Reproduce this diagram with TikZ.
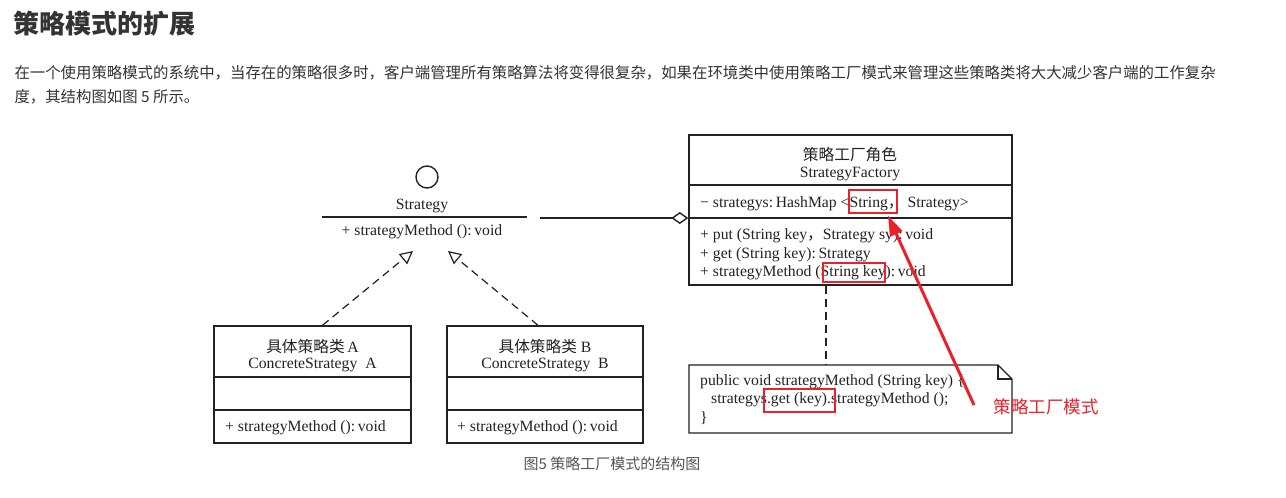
\documentclass[tikz,border=0pt]{standalone}
\usepackage{fontspec}
\setmainfont{Liberation Serif}
\newfontfamily\cjk{Noto Sans CJK SC}
\usetikzlibrary{arrows.meta,positioning}
\definecolor{page}{HTML}{333333}
\definecolor{ink}{HTML}{222222}
\definecolor{annot}{HTML}{E8212B}
\definecolor{capgray}{HTML}{555555}
\begin{document}
\begin{tikzpicture}[x=1pt,y=-1pt,
	box/.style={draw=ink,line width=1.4pt,inner sep=0pt},
	txt/.style={inner sep=0pt,yshift=-1.5pt,text=ink,font=\fontsize{15.7}{18}\selectfont},
	hint/.style={draw=annot,line width=1.4pt,inner sep=0pt},
	uml/.style={draw=ink,line width=1.4pt}]
	\fill [white] (0,0) rectangle (1286,498);
	\useasboundingbox (0,0) rectangle (1286,498);
	% page text
	\node [anchor=west,text=page,font=\cjk\bfseries\fontsize{26}{30}\selectfont] (title) at (10,24) {策略模式的扩展};
	\node [anchor=west,text=page,font=\cjk\fontsize{15.4}{18}\selectfont] (par1) at (11,73) {在一个使用策略模式的系统中，当存在的策略很多时，客户端管理所有策略算法将变得很复杂，如果在环境类中使用策略工厂模式来管理这些策略类将大大减少客户端的工作复杂};
	\node [anchor=west,text=page,font=\cjk\fontsize{15.4}{18}\selectfont] (par2) at (11,97) {度，其结构图如图 5 所示。};
	% interface
	\node [uml,circle,minimum size=22pt,inner sep=0pt] (iface) at (427,177) {};
	\node [txt] (sname) at (422,204) {Strategy};
	\coordinate (sl) at (322,217);
	\coordinate (sr) at (527,217);
	\draw [uml] (sl) -- (sr);
	\node [txt] (smeth) at (422,230) {+ strategyMethod ():\,void};
	% factory
	\node [box,minimum width=323pt,minimum height=150pt] (fac) at (850.5,210) {};
	\draw [uml] (fac.west |- 0,185) -- (fac.east |- 0,185);
	\draw [uml] (fac.west |- 0,218) -- (fac.east |- 0,218);
	\node [txt] (facn) at (850,153) {\cjk 策略工厂角色};
	\node [txt] (fact) at (850,172) {StrategyFactory};
	\node [txt,anchor=west] (fatt) at (700,202) {− strategys:\,HashMap <String{\cjk ，} Strategy>};
	\node [txt,anchor=west] (fm1) at (700,234) {+ put (String key{\cjk ，}Strategy sy):\,void};
	\node [txt,anchor=west] (fm2) at (700,253) {+ get (String key):\,Strategy};
	\node [txt,anchor=west] (fm3) at (700,271) {+ strategyMethod (String key):\,void};
	% note
	\draw [uml] (689,365) -- (998,365) -- (1012,379) -- (1012,433) -- (689,433) -- cycle;
	\draw [uml] (998,365) -- (998,379) -- (1012,379);
	\coordinate (note) at (826,365);
	\draw [uml,dash pattern=on 8pt off 5pt] (fac.south -| note) -- (note);
	\node [txt,anchor=west] (n1) at (700,380) {public void strategyMethod (String key) \{};
	\node [txt,anchor=west] (n2) at (711,398) {strategys.get (key).strategyMethod ();};
	\node [txt,anchor=west] (n3) at (700,417) {\}};
	% concrete strategies
	\node [box,minimum width=197pt,minimum height=117pt] (ca) at (312.5,384.5) {};
	\draw [uml] (ca.west |- 0,377) -- (ca.east |- 0,377);
	\draw [uml] (ca.west |- 0,410) -- (ca.east |- 0,410);
	\node [txt] (can) at (312.5,345) {{\cjk 具体策略类}\,A};
	\node [txt] (cat) at (312.5,363) {ConcreteStrategy\ \ A};
	\node [txt,anchor=west] (cam) at (225,426) {+ strategyMethod ():\,void};
	\node [box,minimum width=196pt,minimum height=117pt] (cb) at (545,384.5) {};
	\draw [uml] (cb.west |- 0,377) -- (cb.east |- 0,377);
	\draw [uml] (cb.west |- 0,410) -- (cb.east |- 0,410);
	\node [txt] (cbn) at (545,345) {{\cjk 具体策略类}\ B};
	\node [txt] (cbt) at (545,363) {ConcreteStrategy\ \ B};
	\node [txt,anchor=west] (cbm) at (457,426) {+ strategyMethod ():\,void};
	% relations
	\coordinate (ta) at (413,251);
	\coordinate (tb) at (448,251);
	\draw [uml,line width=1.2pt,dash pattern=on 8pt off 5pt,-{Triangle[open,length=13pt,width=13pt]}] ([xshift=10pt]ca.north) -- (ta);
	\draw [uml,line width=1.2pt,dash pattern=on 8pt off 5pt,-{Triangle[open,length=13pt,width=13pt]}] ([xshift=-7pt]cb.north) -- (tb);
	\coordinate (as) at (540,218);
	\draw [uml,-{Diamond[open,length=17pt,width=12pt]}] (as) -- (fac.west |- as);
	% red marks
	\node [hint,minimum width=48pt,minimum height=23pt] (h1) at (873,201.5) {};
	\node [hint,minimum width=62pt,minimum height=19pt] (h2) at (854,272.5) {};
	\node [hint,minimum width=71pt,minimum height=23pt] (h3) at (799.5,400.5) {};
	\coordinate (ra) at (974,405);
	\draw [annot,line width=3pt,-{Triangle[length=20pt,width=13pt]}] (ra) -- ([xshift=15pt,yshift=-2pt]h1.south);
	\node [anchor=west,text=annot,font=\cjk\fontsize{17.5}{20}\selectfont] (lab) at (990,407) {策略工厂模式};
	\node [text=capgray,font=\cjk\fontsize{15}{18}\selectfont] (cap) at (612,464) {图5 策略工厂模式的结构图};
\end{tikzpicture}
\end{document}
